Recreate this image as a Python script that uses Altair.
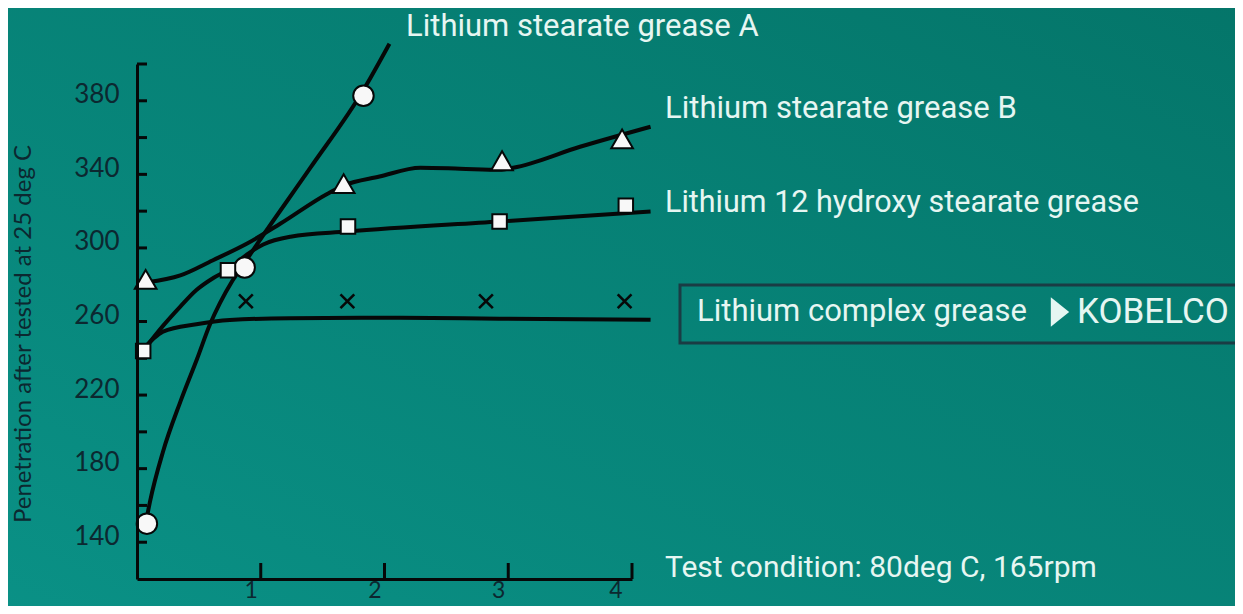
import altair as alt
import pandas as pd

# ---------------- data ----------------
series_names = [
    "Lithium stearate grease A",
    "Lithium stearate grease B",
    "Lithium 12 hydroxy stearate grease",
    "Lithium complex grease",
]

# smooth curve points (hours, penetration)
a_line_x = [0.07, 0.105, 0.21, 0.35, 0.485, 0.59, 0.67, 0.77, 0.87, 0.98, 1.40, 1.83, 2.04]
a_line_y = [150.1, 162.1, 189.2, 216.3, 239.6, 258.5, 270.0, 282.0, 292.0, 303.0, 343.5, 385.9, 411.0]

b_line_x = [0.08, 0.35, 0.61, 0.89, 1.16, 1.54, 1.67, 1.96, 2.29, 2.61, 2.93, 3.04, 3.58, 4.15]
b_line_y = [281.3, 285.1, 293.2, 302.4, 313.3, 329.5, 333.9, 338.8, 343.6, 343.1, 342.5, 343.6, 355.0, 365.9]

h_line_x = [0.05, 0.21, 0.35, 0.48, 0.62, 0.74, 0.89, 1.02, 1.24, 1.70, 2.93, 4.15]
h_line_y = [244.1, 257.6, 268.1, 277.1, 283.8, 288.3, 296.5, 301.9, 306.1, 308.9, 314.4, 319.8]

c_line_x = [0.05, 0.13, 0.21, 0.48, 0.75, 1.24, 2.13, 2.93, 4.15]
c_line_y = [245.0, 250.5, 254.5, 258.5, 260.8, 261.8, 262.0, 261.5, 261.0]

# measured points (markers)
a_pts_x = [0.08, 0.87, 1.83]
a_pts_y = [150.1, 289.4, 382.7]
b_pts_x = [0.07, 1.67, 2.95, 3.92]
b_pts_y = [282.9, 335.0, 347.4, 359.3]
h_pts_x = [0.05, 0.735, 1.705, 2.93, 3.95]
h_pts_y = [244.0, 287.8, 311.7, 314.4, 323.0]
c_pts_x = [0.88, 1.70, 2.82, 3.94]
c_pts_y = [271.0, 271.0, 271.0, 271.0]

x_tick_values = [1, 2, 3, 4]
y_tick_values = [140, 160, 180, 200, 220, 240, 260, 280, 300, 320, 340, 360, 380, 400]
y_label_values = [140, 180, 220, 260, 300, 340, 380]

y_title = "Penetration after tested at 25 deg C"
condition_text = "Test condition: 80deg C, 165rpm"
brand_text = "KOBELCO"

# ---------------- styling ----------------
W, H = 495, 515
INK = "#060808"
AXIS_TXT = "#0c2830"
LIGHT = "#e6f6f2"
MARK_FILL = "#f8f8f8"

x_scale = alt.Scale(domain=[0, 4], nice=False, zero=False)
y_scale = alt.Scale(domain=[120, 400], nice=False, zero=False)


def frame(name, xs, ys):
    return pd.DataFrame({"series": name, "x": xs, "y": ys, "i": list(range(len(xs)))})


lines_df = pd.concat([
    frame(series_names[0], a_line_x, a_line_y),
    frame(series_names[1], b_line_x, b_line_y),
    frame(series_names[2], h_line_x, h_line_y),
    frame(series_names[3], c_line_x, c_line_y),
], ignore_index=True)

one = pd.DataFrame({"d": [0]})

x_axis = alt.Axis(values=x_tick_values, ticks=False, tickSize=0, grid=False, title=None,
                  domainColor=INK, domainWidth=3, zindex=1)
y_axis = alt.Axis(values=y_label_values, ticks=False, tickSize=0, grid=False, title=None,
                  domainColor=INK, domainWidth=3, zindex=1)

X = lambda f: alt.X(f, scale=x_scale, axis=x_axis)
Y = lambda f: alt.Y(f, scale=y_scale, axis=y_axis)

background = alt.Chart(one).mark_rect(
    clip=False,
    fill=alt.LinearGradient(
        gradient="linear",
        stops=[alt.GradientStop(color="#047569", offset=0),
               alt.GradientStop(color="#0a9186", offset=1)],
        x1=1, y1=0, x2=0, y2=1,
    ),
).encode(x=alt.value(-140), x2=alt.value(1120), y=alt.value(-70), y2=alt.value(560))

lines = alt.Chart(lines_df).mark_line(
    interpolate="monotone", color=INK, strokeWidth=4, clip=False
).encode(x=X("x:Q"), y=Y("y:Q"), detail="series:N", order="i:Q")

y_ticks = alt.Chart(pd.DataFrame({"y": y_tick_values})).mark_rule(
    color=INK, strokeWidth=3, clip=False
).encode(y=Y("y:Q"), x=alt.value(0), x2=alt.value(10))

x_ticks = alt.Chart(pd.DataFrame({"x": x_tick_values})).mark_rule(
    color=INK, strokeWidth=3, clip=False
).encode(x=X("x:Q"), y=alt.value(H), y2=alt.value(H - 16))


def markers(xs, ys, shape, size, filled=True, sw=2):
    df = pd.DataFrame({"x": xs, "y": ys})
    if filled:
        m = alt.Chart(df).mark_point(shape=shape, size=size, filled=True, fill=MARK_FILL,
                                     stroke=INK, strokeWidth=sw, opacity=1, clip=False)
    else:
        m = alt.Chart(df).mark_point(shape=shape, size=size, filled=False,
                                     stroke=INK, strokeWidth=sw, opacity=1, clip=False)
    return m.encode(x=X("x:Q"), y=Y("y:Q"))


pts_a = markers(a_pts_x, a_pts_y, "circle", 420)
pts_b = markers(b_pts_x, b_pts_y, "triangle-up", 470)
pts_h = markers(h_pts_x, h_pts_y, "square", 210)
pts_c = markers(c_pts_x, c_pts_y, "M-1,-1L1,1M-1,1L1,-1", 190, filled=False, sw=2.6)


def label(text, x, y, size=31, color=LIGHT, font="Roboto", angle=None, align="left"):
    kw = dict(align=align, baseline="middle", font=font, fontSize=size, color=color)
    if angle is not None:
        kw["angle"] = angle
    return alt.Chart(one).mark_text(**kw).encode(
        x=alt.value(x), y=alt.value(y), text=alt.value(text))


lab_a = label(series_names[0], 269, -37)
lab_b = label(series_names[1], 528, 45)
lab_h = label(series_names[2], 528, 139, size=30.5)
lab_c = label(series_names[3], 560, 248)
lab_brand = label(brand_text, 940, 248, size=35)
lab_cond = label(condition_text, 528, 504, size=30)
lab_ytitle = label(y_title, -113, 270, size=24, color=AXIS_TXT, font="Lato", angle=270, align="center")

box = alt.Chart(one).mark_rect(
    fillOpacity=0, stroke="#1a3c44", strokeWidth=3, clip=False
).encode(x=alt.value(543), x2=alt.value(1140), y=alt.value(221), y2=alt.value(279))

arrow = alt.Chart(one).mark_point(
    shape="M-0.62,-1L0.62,0L-0.62,1Z", size=880, filled=True, fill=LIGHT,
    stroke=LIGHT, strokeWidth=0, opacity=1, clip=False
).encode(x=alt.value(923), y=alt.value(248))

chart = alt.layer(
    background, lines, y_ticks, x_ticks, pts_a, pts_b, pts_h, pts_c,
    box, arrow, lab_a, lab_b, lab_h, lab_c, lab_brand, lab_cond, lab_ytitle,
).properties(
    width=W, height=H,
    autosize=alt.AutoSizeParams(type="none"),
    padding={"left": 129, "top": 56, "right": 603, "bottom": 27},
    background="#068075",
).configure_view(stroke=None).configure_axisX(
    labelFont="Lato", labelFontSize=23, labelColor=AXIS_TXT, labelPadding=18,
    labelBaseline="alphabetic", labelOffset=-10
).configure_axisY(
    labelFont="Lato", labelFontSize=26, labelColor=AXIS_TXT, labelPadding=18, labelOffset=-6
)

chart.save("out.html", embed_options={"renderer": "svg", "actions": False})
